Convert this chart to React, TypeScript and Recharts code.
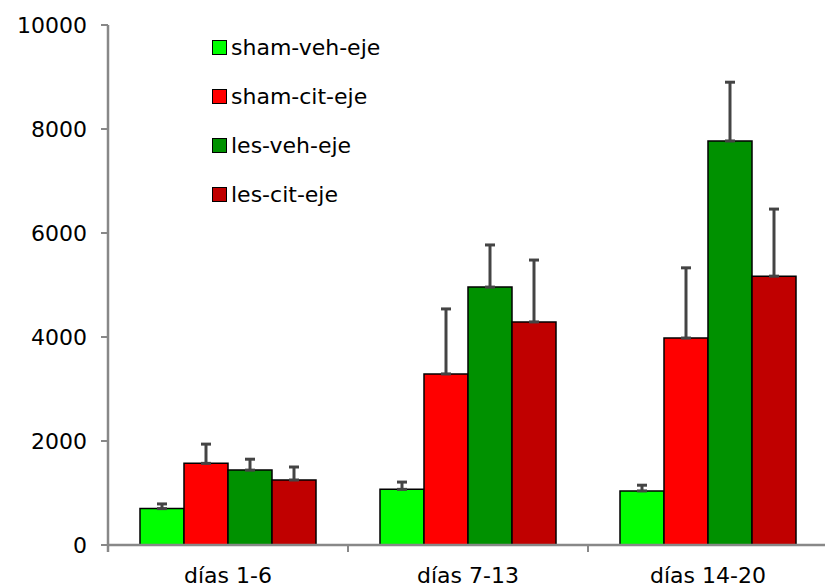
import { BarChart, Bar, XAxis, YAxis, ErrorBar } from "recharts";

const categories = ["días 1-6", "días 7-13", "días 14-20"];
const shamVeh = [700, 1070, 1040];
const shamVehErr = [90, 140, 110];
const shamCit = [1570, 3290, 3980];
const shamCitErr = [370, 1250, 1350];
const lesVeh = [1440, 4960, 7770];
const lesVehErr = [210, 810, 1130];
const lesCit = [1250, 4290, 5170];
const lesCitErr = [250, 1190, 1290];
const yTicks = [0, 2000, 4000, 6000, 8000, 10000];

const series = [
  { key: "shamVeh", name: "sham-veh-eje", color: "#00FF00" },
  { key: "shamCit", name: "sham-cit-eje", color: "#FF0000" },
  { key: "lesVeh", name: "les-veh-eje", color: "#009100" },
  { key: "lesCit", name: "les-cit-eje", color: "#C00000" },
];

const data = categories.map((c, i) => ({
  cat: c,
  shamVeh: shamVeh[i],
  shamVehErr: [0, shamVehErr[i]],
  shamCit: shamCit[i],
  shamCitErr: [0, shamCitErr[i]],
  lesVeh: lesVeh[i],
  lesVehErr: [0, lesVehErr[i]],
  lesCit: lesCit[i],
  lesCitErr: [0, lesCitErr[i]],
}));

const font = "'DejaVu Sans', sans-serif";
const LABEL_GAP = 22;

// category label + tick mark on the boundary between categories
function CatTick(props: any) {
  const { x, y, payload, width, visibleTicksCount } = props;
  const half = width / visibleTicksCount / 2;
  const axisY = y - LABEL_GAP;
  return (
    <g>
      <line
        x1={x + half}
        x2={x + half}
        y1={axisY}
        y2={axisY + 7}
        stroke="#888"
        strokeWidth={2}
      />
      {payload.index === 0 && (
        <line
          x1={x - half}
          x2={x - half}
          y1={axisY}
          y2={axisY + 7}
          stroke="#888"
          strokeWidth={2.5}
        />
      )}
      <text
        x={x}
        y={y}
        dy="0.71em"
        textAnchor="middle"
        fill="#000"
        fontSize={22}
        fontFamily={font}
      >
        {payload.value}
      </text>
    </g>
  );
}

function LegendBox() {
  return (
    <div
      style={{
        position: "absolute",
        left: 212,
        top: 23,
        fontFamily: font,
        fontSize: 22,
        color: "#000",
      }}
    >
      {series.map((s) => (
        <div
          key={s.key}
          style={{ display: "flex", alignItems: "center", height: 49 }}
        >
          <span
            style={{
              display: "inline-block",
              width: 13,
              height: 13,
              background: s.color,
              border: "1.5px solid #000",
              marginRight: 4,
            }}
          />
          {s.name}
        </div>
      ))}
    </div>
  );
}

export default function App() {
  return (
    <div style={{ position: "absolute", left: 0, top: 0, background: "#fff" }}>
      <BarChart
        width={825}
        height={588}
        data={data}
        margin={{ top: 25, right: -3, left: 0, bottom: 0 }}
        barGap={0}
        barCategoryGap={32}
      >
        <XAxis
          dataKey="cat"
          axisLine={{ stroke: "#888", strokeWidth: 2.5 }}
          tickLine={false}
          tickSize={0}
          height={43}
          tickMargin={LABEL_GAP}
          tick={<CatTick />}
        />
        <YAxis
          domain={[0, 10000]}
          ticks={yTicks}
          width={108}
          axisLine={{ stroke: "#888", strokeWidth: 2.5 }}
          tickLine={{ stroke: "#888", strokeWidth: 2 }}
          tickSize={7}
          tickMargin={14}
          tick={{ fill: "#000", fontSize: 22, fontFamily: font }}
        />
        {series.map((s) => (
          <Bar
            key={s.key}
            dataKey={s.key}
            name={s.name}
            fill={s.color}
            stroke="#000"
            strokeWidth={1.5}
            isAnimationActive={false}
          >
            <ErrorBar
              dataKey={s.key + "Err"}
              direction="y"
              width={5}
              stroke="#444"
              strokeWidth={3}
            />
          </Bar>
        ))}
      </BarChart>
      <LegendBox />
    </div>
  );
}
